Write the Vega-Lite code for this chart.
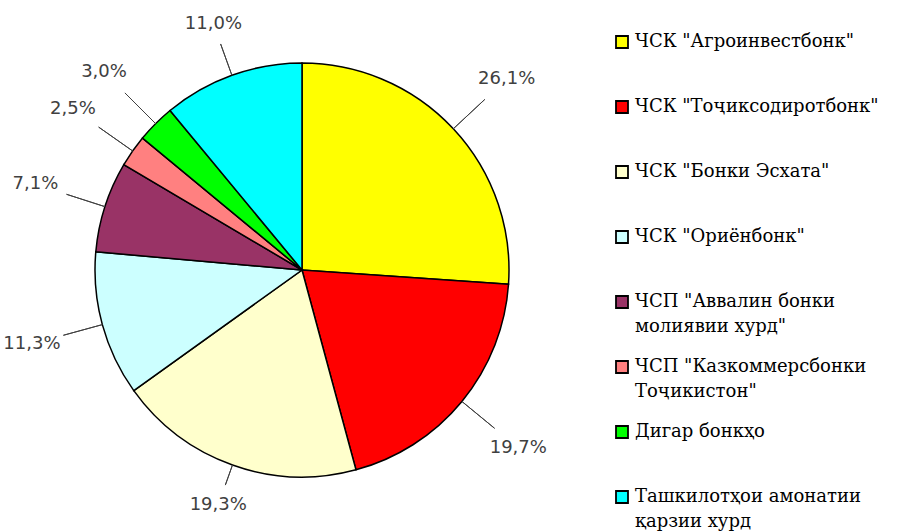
{
  "$schema": "https://vega.github.io/schema/vega-lite/v6.json",
  "width": 604,
  "height": 540,
  "padding": 0,
  "background": "white",
  "view": {"stroke": null},
  "config": {"style": {"guide-label": {"lineHeight": 25}}},
  "data": {"values": [
    {"idx": 1, "bank": "ЧСК \"Агроинвестбонк\"", "share": 26.1},
    {"idx": 2, "bank": "ЧСК \"Тоҷиксодиротбонк\"", "share": 19.7},
    {"idx": 3, "bank": "ЧСК \"Бонки Эсхата\"", "share": 19.3},
    {"idx": 4, "bank": "ЧСК \"Ориёнбонк\"", "share": 11.3},
    {"idx": 5, "bank": "ЧСП \"Аввалин бонки|молиявии хурд\"", "share": 7.1},
    {"idx": 6, "bank": "ЧСП \"Казкоммерсбонки|Тоҷикистон\"", "share": 2.5},
    {"idx": 7, "bank": "Дигар бонкҳо", "share": 3.0},
    {"idx": 8, "bank": "Ташкилотҳои амонатии|қарзии хурд", "share": 11.0}
  ]},
  "transform": [
    {"window": [{"op": "sum", "field": "share", "as": "cum"}], "sort": [{"field": "idx"}], "frame": [null, 0]},
    {"calculate": "datum.cum - datum.share / 2", "as": "mid"},
    {"calculate": "2 * PI * datum.mid / 100", "as": "ang"},
    {"calculate": "cos(datum.ang) < 0 ? min(280, 235 / (-cos(datum.ang))) : min(280, 246 / cos(datum.ang))", "as": "lr"},
    {"calculate": "datum.lr - 29 * abs(sin(datum.ang)) - 10 * abs(cos(datum.ang)) - 2", "as": "le"},
    {"calculate": "replace(format(datum.share, '.1f'), '.', ',') + '%'", "as": "label"}
  ],
  "layer": [
    {
      "mark": {"type": "arc", "outerRadius": 207, "stroke": "black", "strokeWidth": 1.5},
      "encoding": {
        "theta": {"field": "share", "type": "quantitative", "stack": true, "scale": {"domain": [0, 100]}},
        "order": {"field": "idx", "type": "quantitative"},
        "color": {
          "field": "bank", "type": "nominal",
          "scale": {
            "domain": ["ЧСК \"Агроинвестбонк\"", "ЧСК \"Тоҷиксодиротбонк\"", "ЧСК \"Бонки Эсхата\"", "ЧСК \"Ориёнбонк\"", "ЧСП \"Аввалин бонки|молиявии хурд\"", "ЧСП \"Казкоммерсбонки|Тоҷикистон\"", "Дигар бонкҳо", "Ташкилотҳои амонатии|қарзии хурд"],
            "range": ["#FFFF00", "#FF0000", "#FFFFCC", "#CCFFFF", "#993366", "#FF8080", "#00FF00", "#00FFFF"]
          },
          "legend": {
            "orient": "none", "legendX": 613, "legendY": 33, "title": null,
            "symbolType": "square", "symbolSize": 144, "symbolStrokeColor": "black", "symbolStrokeWidth": 1.8,
            "symbolOpacity": 1,
            "labelFont": "DejaVu Serif", "labelFontSize": 18, "labelColor": "black", "labelLimit": 400,
            "labelOffset": 4, "rowPadding": 21,
            "labelExpr": "indexof(datum.label, '|') >= 0 ? split(datum.label, '|') : [datum.label, ' ']"
          }
        }
      }
    },
    {
      "mark": {"type": "arc", "stroke": "#404040", "strokeWidth": 1, "fill": null, "radius2": 207},
      "encoding": {
        "theta": {"field": "mid", "type": "quantitative", "stack": null, "scale": {"domain": [0, 100]}},
        "theta2": {"field": "mid"},
        "radius": {"field": "le", "type": "quantitative", "scale": null}
      }
    },
    {
      "mark": {"type": "text", "font": "DejaVu Sans", "fontSize": 18, "fill": "#404040"},
      "encoding": {
        "theta": {"field": "mid", "type": "quantitative", "stack": null, "scale": {"domain": [0, 100]}},
        "radius": {"field": "lr", "type": "quantitative", "scale": null},
        "text": {"field": "label"}
      }
    }
  ]
}
